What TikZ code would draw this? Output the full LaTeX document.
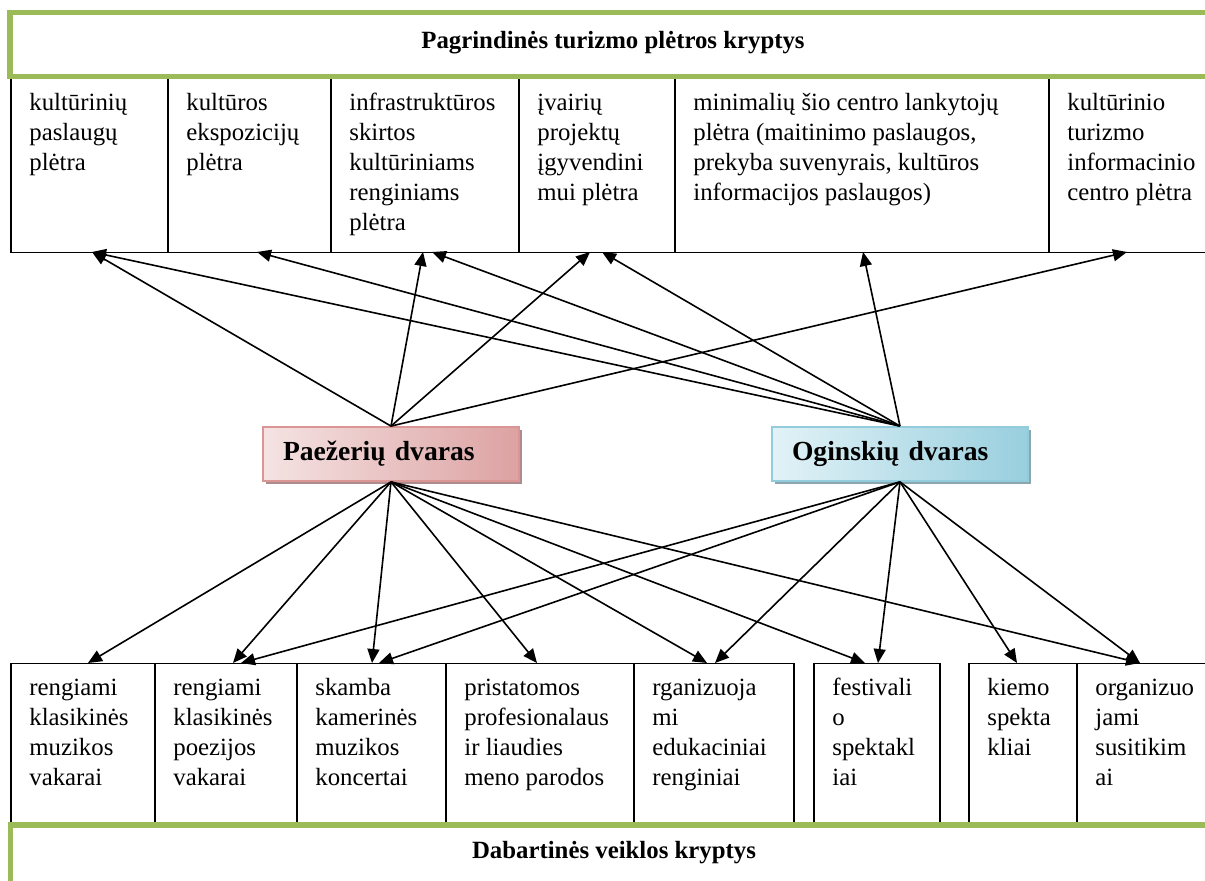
\documentclass[tikz,border=0pt]{standalone}
\usepackage{fontspec}
\setmainfont{Liberation Serif}
\usetikzlibrary{arrows.meta,positioning,shadows}
\definecolor{bandgreen}{HTML}{9BBB59}
\definecolor{rosefill}{HTML}{F5E3E3}
\definecolor{rosedark}{HTML}{DDA2A2}
\definecolor{roseline}{HTML}{D99694}
\definecolor{roseshade}{HTML}{AE8B8C}
\definecolor{aquafill}{HTML}{E2F2F7}
\definecolor{aquadark}{HTML}{98CFDE}
\definecolor{aqualine}{HTML}{93CDDD}
\definecolor{aquashade}{HTML}{8BA6AE}
\newcommand{\cellfont}{\fontsize{12.4}{15}\selectfont}
\tikzset{
  band/.style={draw=bandgreen, line width=2.8pt, inner sep=0pt, minimum width=603pt},
  bandtitle/.style={font=\cellfont\bfseries, inner sep=0pt},
  cell/.style={draw=black, line width=0.75pt, anchor=north west, inner sep=0pt},
  celltext/.style={anchor=north west, align=left, font=\cellfont,
                   inner xsep=9.5pt, inner ysep=5.5pt},
  manor/.style={line width=0.9pt, minimum width=128pt, minimum height=27pt,
                inner xsep=10pt, text width=108pt, align=left,
                font=\fontsize{13.8}{16}\selectfont\bfseries},
  arr/.style={-{Triangle[length=7pt,width=6pt]}, line width=0.8pt}}

\begin{document}
\begin{tikzpicture}[x=0.5pt, y=-0.5pt]
  \useasboundingbox (0,0) rectangle (1205,881);
  \clip (0,0) rectangle (1205,881);

  % upper row: development directions
  \node[cell, minimum width=78.5pt, minimum height=87pt] (k1) at (10,78) {};
  \node[cell, minimum width=81.5pt, minimum height=87pt] (k2) at (167,78) {};
  \node[cell, minimum width=94pt, minimum height=87pt] (k3) at (330,78) {};
  \node[cell, minimum width=78pt, minimum height=87pt] (k4) at (518,78) {};
  \node[cell, minimum width=187pt, minimum height=87pt] (k5) at (674,78) {};
  \node[cell, minimum width=84pt, minimum height=87pt] (k6) at (1048,78) {};
  \node[celltext] (k1t) at (k1.north west) {\strut kultūrinių\\paslaugų\\plėtra};
  \node[celltext] (k2t) at (k2.north west) {\strut kultūros\\ekspozicijų\\plėtra};
  \node[celltext] (k3t) at (k3.north west)
    {\strut infrastruktūros\\skirtos\\kultūriniams\\renginiams\\plėtra};
  \node[celltext] (k4t) at (k4.north west) {\strut įvairių\\projektų\\įgyvendini\\mui plėtra};
  \node[celltext] (k5t) at (k5.north west)
    {\strut minimalių šio centro lankytojų\\plėtra (maitinimo paslaugos,\\prekyba suvenyrais, kultūros\\informacijos paslaugos)};
  \node[celltext] (k6t) at (k6.north west) {\strut kultūrinio\\turizmo\\informacinio\\centro plėtra};

  % lower row: current activities
  \node[cell, minimum width=72pt, minimum height=80.5pt] (b1) at (10,663) {};
  \node[cell, minimum width=71pt, minimum height=80.5pt] (b2) at (154,663) {};
  \node[cell, minimum width=74.5pt, minimum height=80.5pt] (b3) at (296,663) {};
  \node[cell, minimum width=94pt, minimum height=80.5pt] (b4) at (445,663) {};
  \node[cell, minimum width=80pt, minimum height=80.5pt] (b5) at (633,663) {};
  \node[cell, minimum width=63pt, minimum height=80.5pt] (b6) at (813,663) {};
  \node[cell, minimum width=54pt, minimum height=80.5pt] (b7) at (968,663) {};
  \node[cell, minimum width=70pt, minimum height=80.5pt] (b8) at (1076,663) {};
  \node[celltext] (b1t) at (b1.north west) {\strut rengiami\\klasikinės\\muzikos\\vakarai};
  \node[celltext] (b2t) at (b2.north west) {\strut rengiami\\klasikinės\\poezijos\\vakarai};
  \node[celltext] (b3t) at (b3.north west) {\strut skamba\\kamerinės\\muzikos\\koncertai};
  \node[celltext] (b4t) at (b4.north west) {\strut pristatomos\\profesionalaus\\ir liaudies\\meno parodos};
  \node[celltext] (b5t) at (b5.north west) {\strut rganizuoja\\mi\\edukaciniai\\renginiai};
  \node[celltext] (b6t) at (b6.north west) {\strut festivali\\o\\spektakl\\iai};
  \node[celltext] (b7t) at (b7.north west) {\strut kiemo\\spekta\\kliai};
  \node[celltext] (b8t) at (b8.north west) {\strut organizuo\\jami\\susitikim\\ai};

  % green bands
  \node[band, minimum height=32pt] (topband) at (613,44.5) {};
  \node[bandtitle] (toptitle) at (613,43) {Pagrindinės turizmo plėtros kryptys};
  \node[band, minimum height=33pt] (lowband) at (613.5,858) {};
  \node[bandtitle] (lowtitle) at (614,853) {Dabartinės veiklos kryptys};

  % the two manors
  \node[manor, draw=roseline, left color=rosefill, right color=rosedark,
        drop shadow={shadow xshift=1.6pt, shadow yshift=-1.6pt, fill=roseshade, opacity=1}]
    (pz) at (391,454) {Paežerių dvaras};
  \node[manor, draw=aqualine, left color=aquafill, right color=aquadark,
        drop shadow={shadow xshift=1.6pt, shadow yshift=-1.6pt, fill=aquashade, opacity=1}]
    (og) at (900,454) {Oginskių dvaras};

  % arrow ends on the upper row
  \coordinate (ta1) at (92,252);
  \coordinate (ta2) at (257,252);
  \coordinate (ta3p) at (423,252);
  \coordinate (ta3o) at (432,252);
  \coordinate (ta4p) at (590,252);
  \coordinate (ta4o) at (602,252);
  \coordinate (ta5) at (863,252);
  \coordinate (ta6) at (1127,252);
  % arrow ends on the lower row
  \coordinate (ba1) at (88,663);
  \coordinate (ba2p) at (233,663);
  \coordinate (ba2o) at (241,663);
  \coordinate (ba3p) at (372,663);
  \coordinate (ba3o) at (379,663);
  \coordinate (ba4) at (537,663);
  \coordinate (ba5p) at (707,663);
  \coordinate (ba5o) at (715,663);
  \coordinate (ba6p) at (865,663);
  \coordinate (ba6o) at (878,663);
  \coordinate (ba7) at (1017,663);
  \coordinate (ba8) at (1140,663);

  \draw[arr] (pz.north) -- (ta1);
  \draw[arr] (pz.north) -- (ta3p);
  \draw[arr] (pz.north) -- (ta4p);
  \draw[arr] (pz.north) -- (ta6);
  \draw[arr] (og.north) -- (ta1);
  \draw[arr] (og.north) -- (ta2);
  \draw[arr] (og.north) -- (ta3o);
  \draw[arr] (og.north) -- (ta4o);
  \draw[arr] (og.north) -- (ta5);

  \draw[arr] (pz.south) -- (ba1);
  \draw[arr] (pz.south) -- (ba2p);
  \draw[arr] (pz.south) -- (ba3p);
  \draw[arr] (pz.south) -- (ba4);
  \draw[arr] (pz.south) -- (ba5p);
  \draw[arr] (pz.south) -- (ba6p);
  \draw[arr] (pz.south) -- (ba8);
  \draw[arr] (og.south) -- (ba2o);
  \draw[arr] (og.south) -- (ba3o);
  \draw[arr] (og.south) -- (ba5o);
  \draw[arr] (og.south) -- (ba6o);
  \draw[arr] (og.south) -- (ba7);
  \draw[arr] (og.south) -- (ba8);
\end{tikzpicture}
\end{document}
